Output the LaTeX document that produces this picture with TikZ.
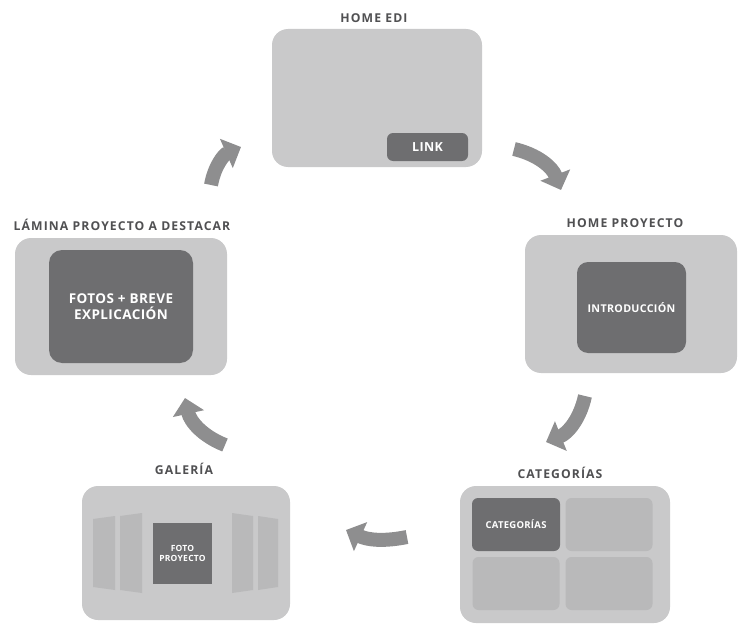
\documentclass[tikz,border=0pt]{standalone}
\usepackage{fontspec}
\setmainfont{Open Sans}
\usetikzlibrary{arrows.meta}
\definecolor{boxgray}{HTML}{C9C9CA}
\definecolor{cellgray}{HTML}{B9B9BA}
\definecolor{darkgray}{HTML}{6E6E70}
\definecolor{arrowgray}{HTML}{8E8E8F}
\definecolor{labelgray}{HTML}{505052}
\newcommand{\boxfont}[1]{\fontsize{#1}{#1}\selectfont\bfseries\addfontfeatures{LetterSpace=3}}
\tikzset{
	screen/.style={fill=boxgray,rounded corners=16pt,inner sep=0pt},
	panel/.style={fill=darkgray,rounded corners=11pt,inner sep=0pt,text=white,align=center},
	cell/.style={fill=cellgray,rounded corners=6pt,inner sep=0pt,minimum width=87pt,minimum height=53pt},
	title/.style={text=labelgray,font=\fontsize{12.2}{13}\selectfont\bfseries\addfontfeatures{LetterSpace=9}},
	flow/.style={draw=arrowgray,line width=14pt,-{Triangle[length=16pt,width=31pt]}}
}
\begin{document}
\begin{tikzpicture}[x=1pt,y=-1pt]
	\useasboundingbox (0,0) rectangle (745,626);
	% home edi
	\node[title] (tedi) at (374,18) {HOME EDI};
	\node[screen,minimum width=210pt,minimum height=138pt] (edi) at (377,98) {};
	\node[panel,rounded corners=6pt,minimum width=81pt,minimum height=28pt,font=\boxfont{12.5}] (link) at (427.5,147) {LINK};
	% home proyecto
	\node[title] (tpro) at (625,223) {HOME PROYECTO};
	\node[screen,minimum width=212pt,minimum height=138pt] (pro) at (631,304) {};
	\node[panel,minimum width=109pt,minimum height=91pt,font=\boxfont{10.7}] (intro) at (631.5,307.5) {INTRODUCCIÓN};
	% lamina
	\node[title] (tlam) at (122,225) {LÁMINA PROYECTO A DESTACAR};
	\node[screen,minimum width=212pt,minimum height=137pt] (lam) at (121,306.5) {};
	\node[panel,rounded corners=13pt,minimum width=144pt,minimum height=113pt,font=\boxfont{13.5}] (fotos) at (121,306.5) {FOTOS + BREVE\\[2pt]EXPLICACIÓN};
	% categorias
	\node[title] (tcat) at (560,473) {CATEGORÍAS};
	\node[screen,minimum width=210pt,minimum height=137pt] (cat) at (565,554.5) {};
	\node[cell] (c2) at (609,524.5) {};
	\node[cell] (c3) at (516,583.5) {};
	\node[cell] (c4) at (609,583.5) {};
	\node[panel,rounded corners=6pt,minimum width=88pt,minimum height=53pt,font=\boxfont{9.5}] (c1) at (516,524.5) {CATEGORÍAS};
	% galeria
	\node[title] (tgal) at (184,469) {GALERÍA};
	\node[screen,minimum width=208pt,minimum height=134pt] (gal) at (186,553) {};
	\fill[cellgray] (93,519) -- (115,516) -- (115,590) -- (93,587) -- cycle;
	\fill[cellgray] (120,516) -- (142,513) -- (142,593) -- (120,590) -- cycle;
	\fill[cellgray] (232,513) -- (253,516) -- (253,590) -- (232,593) -- cycle;
	\fill[cellgray] (258,516) -- (278,519) -- (278,587) -- (258,590) -- cycle;
	\node[panel,rounded corners=0pt,minimum width=59pt,minimum height=61pt,font=\boxfont{8.5}] (foto) at (182.5,553.5) {FOTO\\[1pt]PROYECTO};
	% flechas
	\coordinate (a1) at (211,185);
	\coordinate (b1) at (241,147);
	\coordinate (a2) at (514,149);
	\coordinate (b2) at (561,190);
	\coordinate (a3) at (585,396);
	\coordinate (b3) at (546,442);
	\coordinate (a4) at (407,537);
	\coordinate (b4) at (346,530);
	\coordinate (a5) at (225,445);
	\coordinate (b5) at (185,398);
	\draw[flow] (a1) to[bend left=28] (b1);
	\draw[flow] (a2) to[bend left=28] (b2);
	\draw[flow] (a3) to[bend left=28] (b3);
	\draw[flow] (a4) to[bend left=18] (b4);
	\draw[flow] (a5) to[bend left=28] (b5);
\end{tikzpicture}
\end{document}
